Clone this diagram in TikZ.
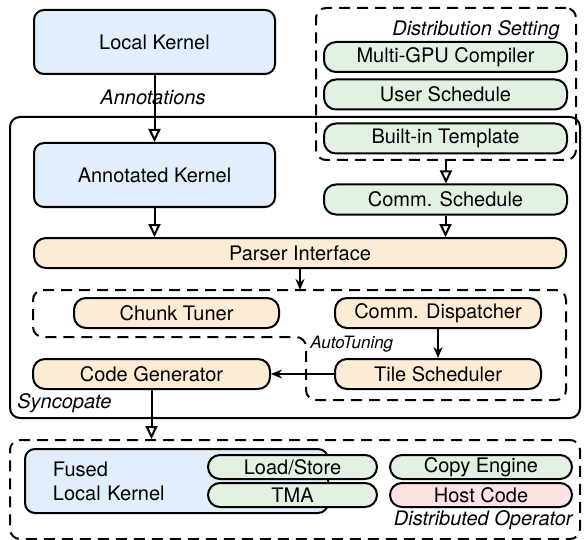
\documentclass[tikz,border=0pt]{standalone}
\usepackage{fontspec}
\setmainfont{TeX Gyre Heros}
\usetikzlibrary{arrows.meta}

\definecolor{kblue}{HTML}{E1EEFB}
\definecolor{kgreen}{HTML}{E1F2E3}
\definecolor{korange}{HTML}{FCEBD5}
\definecolor{kpink}{HTML}{FCE2E3}

\tikzset{
	kernel/.style={draw, line width=1pt, rounded corners=5pt, fill=kblue, minimum width=120.5pt, minimum height=32pt, inner sep=0pt},
	pill/.style={draw, line width=1pt, rounded corners=6pt, minimum height=15pt, inner sep=0pt},
	tinypill/.style={pill, minimum height=12pt},
	group/.style={draw, line width=1pt, rounded corners=5pt, inner sep=0pt},
	dgroup/.style={group, dash pattern=on 5.5pt off 3.5pt},
	opentip/.style={line width=1pt, -{Triangle[open, length=6.5pt, width=6pt]}},
	solidtip/.style={line width=1pt, -{Stealth[length=5.5pt, width=4.5pt]}},
	tag/.style={font=\itshape, inner sep=0pt},
}

\begin{document}
\begin{tikzpicture}[x=0.5pt, y=-0.5pt]
	\useasboundingbox (0,0) rectangle (584,540);
	% groups
	\node[group, minimum width=285pt, minimum height=150.5pt] (syncopate) at (295,267.5) {};
	\node[dgroup, minimum width=130pt, minimum height=76pt] (distset) at (446,84) {};
	\draw[dgroup] (33,290) -- (566,290) -- (566,400) -- (306,400) -- (306,337) -- (33,337) -- cycle;
	\coordinate (autotop) at (298,290);
	\node[dgroup, minimum width=285pt, minimum height=49.5pt] (distop) at (295,489.5) {};
	\node[tag, anchor=east] at (560,30) {Distribution Setting};
	\node[tag, anchor=west] at (17,403) {Syncopate};
	\node[tag, anchor=west, font=\itshape\fontsize{8.5}{10}\selectfont] at (310,344) {AutoTuning};
	\node[tag, anchor=east] at (573,520) {Distributed Operator};

	% kernels
	\node[kernel] (local) at (154.5,42) {Local Kernel};
	\node[kernel] (annot) at (154.5,175) {Annotated Kernel};
	\node[kernel, minimum width=151.5pt, text width=123.5pt, inner xsep=14pt, align=left] (fused) at (176.5,481) {Fused\\Local Kernel};

	% distribution setting
	\node[pill, fill=kgreen, minimum width=121.5pt] (multigpu) at (445.5,57) {Multi-GPU Compiler};
	\node[pill, fill=kgreen, minimum width=121.5pt] (usersched) at (445.5,94.5) {User Schedule};
	\node[pill, fill=kgreen, minimum width=121.5pt] (builtin) at (445.5,138.5) {Built-in Template};
	\node[pill, fill=kgreen, minimum width=121.5pt] (commsched) at (445.5,199.5) {Comm. Schedule};

	% syncopate
	\node[pill, fill=korange, minimum width=266pt] (parser) at (300,253) {Parser Interface};
	\node[pill, fill=korange, minimum width=102.5pt] (chunk) at (176.5,313) {Chunk Tuner};
	\node[pill, fill=korange, minimum width=103pt] (dispatch) at (438,313) {Comm. Dispatcher};
	\node[pill, fill=korange, minimum width=103pt] (tilesched) at (438,374) {Tile Scheduler};
	\node[pill, fill=korange, minimum width=118.5pt] (codegen) at (151.5,374) {Code Generator};

	% distributed operator
	\node[tinypill, fill=kgreen, minimum width=84.5pt] (loadstore) at (292.5,467) {Load/Store};
	\node[tinypill, fill=kgreen, minimum width=84.5pt] (tma) at (292.5,495) {TMA};
	\node[tinypill, fill=kgreen, minimum width=91pt] (copyeng) at (481,467) {Copy Engine};
	\node[tinypill, fill=kpink, minimum width=91pt] (hostcode) at (481,495) {Host Code};

	% connectors
	\draw[opentip] (local) -- (annot);
	\node[tag] at (153,97) {Annotations};
	\draw[opentip] (annot.south) -- (annot.south |- parser.north);
	\draw[opentip] (distset.south) -- (distset.south |- commsched.north);
	\draw[opentip] (commsched.south) -- (commsched.south |- parser.north);
	\draw[solidtip] (parser.south) -- (parser.south |- autotop);
	\draw[solidtip] (dispatch) -- (tilesched);
	\draw[solidtip] (tilesched) -- (codegen);
	\draw[opentip] (codegen.south) -- (codegen.south |- distop.north);
\end{tikzpicture}
\end{document}
